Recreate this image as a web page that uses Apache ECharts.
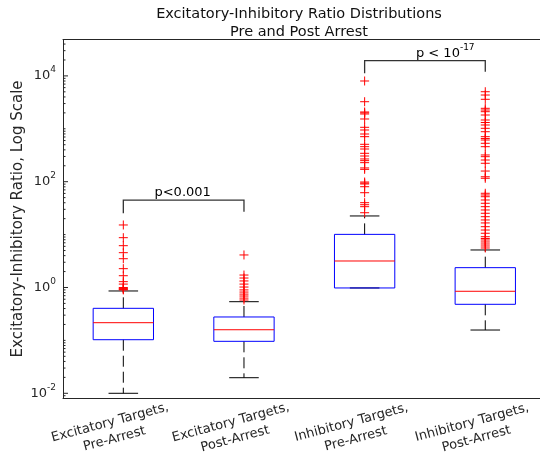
<!DOCTYPE html>
<html><head><meta charset="utf-8">
<script src="https://cdn.jsdelivr.net/npm/echarts@6/dist/echarts.min.js"></script>
<style>html,body{margin:0;padding:0;background:#fff}#c{width:540px;height:455px}</style>
</head><body><div id="c"></div>
<script>
// ---------- data ----------
const categories = ['Excitatory Targets,\nPre-Arrest', 'Excitatory Targets,\nPost-Arrest', 'Inhibitory Targets,\nPre-Arrest', 'Inhibitory Targets,\nPost-Arrest'];
// [lower whisker, Q1, median, Q3, upper whisker]
const excPreBox  = [0.0100, 0.103, 0.216, 0.404, 0.859];
const excPostBox = [0.0197, 0.096, 0.159, 0.277, 0.539];
const inhPreBox  = [0.98, 0.98, 3.17, 10.1, 22.5];
const inhPostBox = [0.157, 0.481, 0.848, 2.37, 5.12];
const excPreOutliers  = [15.2, 8.74, 6.17, 4.55, 3.50, 2.27, 1.67, 1.29, 1.16, 1.0, 0.97, 0.95, 0.92, 0.90];
const excPostOutliers = [4.12, 1.72, 1.51, 1.33, 1.16, 1.02, 0.90, 0.82, 0.75, 0.69, 0.63, 0.58];
const inhPreOutliers  = [8010, 3250, 2080, 2000, 1905, 1532, 1067, 949, 797, 710, 509, 459, 415, 344, 306, 269, 250, 229, 182, 171, 98.6, 94, 90.5, 80.4, 61.9, 40.1, 36.7, 33.7, 25.9];
const inhPostOutliers = [5020, 4350, 3610, 2440, 2266, 2105, 1823, 1467, 1315, 1180, 1021, 881, 710, 656, 614, 532, 459, 320, 297, 257, 223, 159, 124, 116, 60.4, 56.1, 52.0, 45.1, 39.1, 33.7, 29.2, 25.3, 21.8, 18.9, 16.6, 14.1, 12.2, 10.6, 9.12, 8.44, 7.91, 7.25, 6.64, 6.09, 5.58];
const yMin = 0.00804, yMax = 48760;
const majorTickExps = [-2, 0, 2, 4];
// brackets: [fromIndex, toIndex, leftEnd, top, rightEnd]
const bracketExc = [0, 1, 25.3, 45, 27];
const bracketInh = [2, 3, 11200, 19400, 12000];
const pTexts = ['{b|p<0.001}', '{b|p < 10}{sup|-17}'];

// ---------- build ----------
const FONT = 'DejaVu Sans';
const AX = '#262626';
const boxes = [excPreBox, excPostBox, inhPreBox, inhPostBox];
const outlierSets = [excPreOutliers, excPostOutliers, inhPreOutliers, inhPostOutliers];
const boxData = boxes.map((b, i) => [i].concat(b));
const outlierData = [];
outlierSets.forEach((arr, i) => arr.forEach(v => outlierData.push([i, v])));
const tickData = [];
for (let e = -3; e <= 5; e++) {
  for (let m = 1; m <= 9; m++) {
    const v = m * Math.pow(10, e);
    if (v < yMin || v > yMax) continue;
    const major = (m === 1 && majorTickExps.includes(e)) ? 1 : 0;
    tickData.push([0, v, major]);
  }
}
const labelCfg = [{align: 'center', dx: -1}, {align: 'left', dx: -9}];
const richSup = {
  b: {fontSize: 13, fontFamily: FONT, color: AX, lineHeight: 17, verticalAlign: 'bottom'},
  sup: {fontSize: 9, fontFamily: FONT, color: AX, lineHeight: 17, verticalAlign: 'top'}
};

const option = {
  animation: false,
  backgroundColor: '#fff',
  title: {
    text: 'Excitatory-Inhibitory Ratio Distributions\nPre and Post Arrest',
    left: 299, top: 5, padding: 0, textAlign: 'center',
    textStyle: {fontFamily: FONT, fontSize: 14.5, fontWeight: 'normal', color: '#111', lineHeight: 18}
  },
  grid: {left: 63, right: -5.6, top: 39.5, bottom: 56.7, containLabel: false, outerBoundsMode: 'none'},
  xAxis: [{
    type: 'category', data: categories, position: 'bottom',
    axisLine: {lineStyle: {color: AX, width: 1}},
    axisTick: {inside: true, length: 5, alignWithLabel: true, lineStyle: {color: AX}},
    axisLabel: {rotate: 15, align: 'center', verticalAlign: 'top', margin: 12, padding: [0, 32, 0, 0],
      fontFamily: FONT, fontSize: 13, color: AX, lineHeight: 17, interval: 0, hideOverlap: false},
    splitLine: {show: false}
  }, {
    type: 'category', data: categories, position: 'top',
    axisLine: {lineStyle: {color: AX, width: 1}},
    axisTick: {inside: true, length: 5, alignWithLabel: true, lineStyle: {color: AX}},
    axisLabel: {show: false}, splitLine: {show: false}
  }],
  yAxis: {
    type: 'log', logBase: 10, min: yMin, max: yMax,
    name: 'Excitatory-Inhibitory Ratio, Log Scale', nameLocation: 'middle', nameGap: 37, nameMoveOverlap: false,
    nameTextStyle: {fontFamily: FONT, fontSize: 15, color: AX},
    axisLine: {show: true, lineStyle: {color: AX, width: 1}},
    axisTick: {show: false}, splitLine: {show: false}, minorTick: {show: false},
    axisLabel: {
      margin: 7, padding: [0, 0, 4, 0], rich: richSup,
      formatter: v => {
        const e = Math.log10(v), r = Math.round(e);
        if (Math.abs(e - r) > 1e-6 || !majorTickExps.includes(r)) return '';
        return '{b|10}{sup|' + r + '}';
      }
    }
  },
  series: [
    { // y ticks (major + minor, MATLAB style, inside)
      type: 'custom', silent: true, clip: false, data: tickData, encode: {x: 0, y: 1},
      renderItem: (params, api) => {
        const cs = params.coordSys;
        const y = api.coord([0, api.value(1)])[1];
        const len = api.value(2) ? 5 : 2.5;
        return {type: 'line', shape: {x1: cs.x, y1: y, x2: cs.x + len, y2: y},
          style: {stroke: AX, lineWidth: 1}};
      }
    },
    { // boxes
      type: 'custom', silent: true, data: boxData, encode: {x: 0, y: [1, 2, 3, 4, 5]},
      renderItem: (params, api) => {
        const idx = api.value(0);
        const c = v => api.coord([idx, v]);
        const band = api.size([1, 0])[0];
        const bw = band * 0.5, cw = bw * 0.49;
        const x = c(api.value(3))[0];
        const yLow = c(api.value(1))[1], yQ1 = c(api.value(2))[1], yMed = c(api.value(3))[1],
              yQ3 = c(api.value(4))[1], yHigh = c(api.value(5))[1];
        const dash = {stroke: '#000', lineWidth: 1, lineDash: [11, 5]};
        const solid = {stroke: '#000', lineWidth: 1};
        const ch = [];
        if (Math.abs(yQ3 - yHigh) > 0.5) ch.push({type: 'line', shape: {x1: x, y1: yQ3, x2: x, y2: yHigh}, style: dash});
        if (Math.abs(yQ1 - yLow) > 0.5) ch.push({type: 'line', shape: {x1: x, y1: yQ1, x2: x, y2: yLow}, style: dash});
        ch.push({type: 'line', shape: {x1: x - cw / 2, y1: yHigh, x2: x + cw / 2, y2: yHigh}, style: solid});
        ch.push({type: 'line', shape: {x1: x - cw / 2, y1: yLow, x2: x + cw / 2, y2: yLow}, style: solid});
        ch.push({type: 'rect', shape: {x: x - bw / 2, y: yQ3, width: bw, height: yQ1 - yQ3},
          style: {fill: 'none', stroke: '#0000ff', lineWidth: 1}});
        ch.push({type: 'line', shape: {x1: x - bw / 2, y1: yMed, x2: x + bw / 2, y2: yMed},
          style: {stroke: '#ff0000', lineWidth: 1}});
        return {type: 'group', children: ch};
      }
    },
    { // outliers as red +
      type: 'custom', silent: true, data: outlierData, encode: {x: 0, y: 1},
      renderItem: (params, api) => {
        const p = api.coord([api.value(0), api.value(1)]);
        const h = 4.5;
        return {type: 'group', children: [
          {type: 'line', shape: {x1: p[0] - h, y1: p[1], x2: p[0] + h, y2: p[1]}, style: {stroke: '#ff0000', lineWidth: 1}},
          {type: 'line', shape: {x1: p[0], y1: p[1] - h, x2: p[0], y2: p[1] + h}, style: {stroke: '#ff0000', lineWidth: 1}}
        ]};
      }
    },
    { // significance brackets
      type: 'custom', silent: true, clip: false, data: [bracketExc.concat([0]), bracketInh.concat([1])],
      encode: {x: [0, 1], y: [2, 3, 4]},
      renderItem: (params, api) => {
        const i0 = api.value(0), i1 = api.value(1), k = api.value(5);
        const pL = api.coord([i0, api.value(2)]);
        const pT0 = api.coord([i0, api.value(3)]);
        const pT1 = api.coord([i1, api.value(3)]);
        const pR = api.coord([i1, api.value(4)]);
        const mid = (pT0[0] + pT1[0]) / 2;
        const cfg = labelCfg[k];
        return {type: 'group', children: [
          {type: 'polyline', shape: {points: [pL, pT0, pT1, pR]}, style: {stroke: '#333', lineWidth: 1.3, fill: 'none'}},
          {type: 'text', x: mid + cfg.dx, y: pT0[1] - 1,
            style: {text: pTexts[k], rich: richSup, align: cfg.align, verticalAlign: 'bottom'}}
        ]};
      }
    }
  ]
};
const chart = echarts.init(document.getElementById('c'), null, {renderer: 'canvas'});
chart.setOption(option);
</script>
</body></html>
